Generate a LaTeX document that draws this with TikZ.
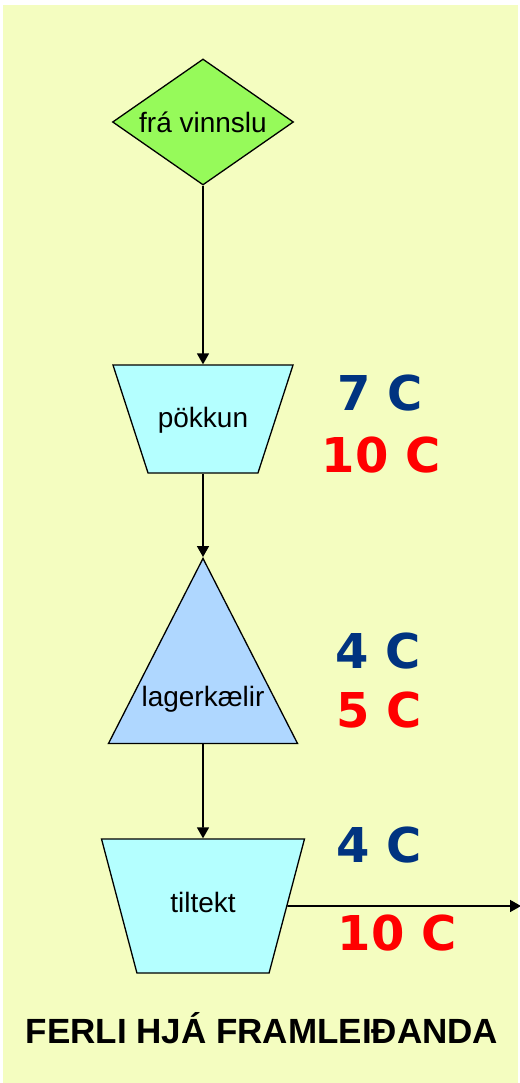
\documentclass[tikz,border=0pt]{standalone}
\usepackage{fontspec}
\setmainfont{Liberation Sans}
\newfontfamily\tempfont{DejaVu Sans}
\usetikzlibrary{shapes.geometric}
\usetikzlibrary{arrows.meta}
\usepackage{xcolor}
\definecolor{bgyellow}{RGB}{244,253,192}
\definecolor{diagreen}{RGB}{150,250,90}
\definecolor{trapcyan}{RGB}{180,255,255}
\definecolor{triblue}{RGB}{175,215,255}
\definecolor{tempblue}{RGB}{0,51,128}
\definecolor{tempred}{RGB}{255,0,0}

\begin{document}
\begin{tikzpicture}[x=1pt, y=-1pt,
    box/.style={draw=black, line width=1.3pt, inner sep=0pt, font=\fontsize{28}{30}\selectfont},
    cup/.style={box, trapezium, shape border rotate=180, fill=trapcyan},
    flow/.style={line width=1.6pt, -{Triangle[length=11pt, width=12pt]}},
    cold/.style={font=\tempfont\bfseries\fontsize{48}{50}\selectfont, text=tempblue, anchor=base},
    warm/.style={cold, text=tempred}]
    \useasboundingbox (0,0) rectangle (519,1083);
    \fill[white] (0,0) rectangle (519,1083);
    \fill[bgyellow] (3,5) rectangle (518,1083);

    % process chain
    \node[box, diamond, aspect=1.44, fill=diagreen, minimum width=181pt, minimum height=126pt] (src) at (203,122) {frá vinnslu};
    \node[cup, trapezium left angle=72, trapezium right angle=72, text height=22pt, text depth=6pt,
          inner xsep=9.8pt, inner ysep=40pt] (pak) at (203,419) {pökkun};
    \node[box, isosceles triangle, shape border rotate=90, isosceles triangle apex angle=54, isosceles triangle stretches,
          minimum width=189pt, minimum height=185pt, fill=triblue, anchor=apex] (lag) at (203,557) {};
    \node[box, draw=none, anchor=base] (lagtxt) at (203,706) {lagerkælir};
    \node[cup, trapezium left angle=75.2, trapezium right angle=75.2, text height=20pt, text depth=8pt,
          inner xsep=33.4pt, inner ysep=53pt] (til) at (203,906) {tiltekt};
    \coordinate (out) at (521,906);

    \draw[flow] (src) -- (pak);
    \draw[flow] (pak) -- (lag.apex);
    \draw[flow] (lag.south) -- (til);
    \draw[flow] (til) -- (out);

    % temperatures
    \node[cold] (p1) at (380,410) {7 C};
    \node[warm] (p2) at (381,472) {10 C};
    \node[cold] (l1) at (378,668) {4 C};
    \node[warm] (l2) at (379,727) {5 C};
    \node[cold] (t1) at (379,862) {4 C};
    \node[warm] (t2) at (397,950) {10 C};

    \node[font=\bfseries\fontsize{35}{38}\selectfont, anchor=base] (title) at (262,1043) {FERLI HJÁ FRAMLEIÐANDA};
\end{tikzpicture}
\end{document}
